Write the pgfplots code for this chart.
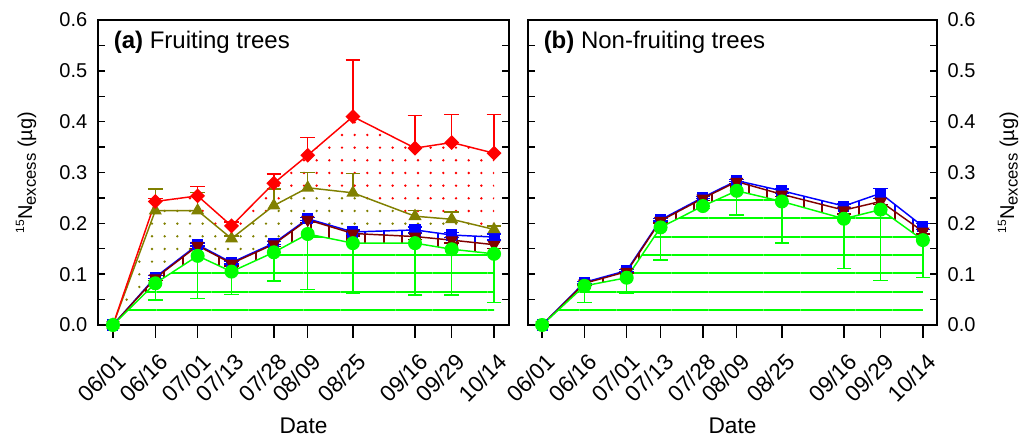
\documentclass[border=0pt]{standalone}
\usepackage{fontspec}
\setmainfont{Liberation Sans}
\usepackage{pgfplots}
\usepackage{pgfplotstable}
\pgfplotsset{compat=1.18}
\usepgfplotslibrary{fillbetween}
\usetikzlibrary{patterns.meta}

\definecolor{cred}{RGB}{255,0,0}
\definecolor{colive}{RGB}{128,128,0}
\definecolor{cmaroon}{RGB}{128,0,0}
\definecolor{cblue}{RGB}{0,0,255}
\definecolor{cgreen}{RGB}{0,255,0}

% day  value  error
\pgfplotstableread{
x y e
0 0 0
15 0.243 0.006
30 0.254 0.018
42 0.195 0.008
57 0.279 0.018
69 0.334 0.035
85 0.410 0.111
107 0.348 0.064
120 0.359 0.055
135 0.338 0.076
}\aRed
\pgfplotstableread{
x y e
0 0 0
15 0.225 0.043
30 0.225 0.036
42 0.170 0.005
57 0.235 0.033
69 0.270 0.030
85 0.260 0.038
107 0.214 0.011
120 0.208 0.014
135 0.188 0.007
}\aOlive
\pgfplotstableread{
x y e
0 0 0
15 0.094 0.003
30 0.158 0.003
42 0.123 0.003
57 0.161 0.003
69 0.209 0.003
85 0.183 0.004
107 0.187 0.006
120 0.177 0.005
135 0.173 0.006
}\aBlue
\pgfplotstableread{
x y e
0 0 0
15 0.092 0.004
30 0.156 0.005
42 0.121 0.005
57 0.159 0.005
69 0.207 0.005
85 0.180 0.005
107 0.174 0.006
120 0.167 0.006
135 0.158 0.007
}\aMaroon
\pgfplotstableread{
x y e
0 0 0
15 0.082 0.033
30 0.136 0.084
42 0.105 0.045
57 0.143 0.056
69 0.179 0.109
85 0.161 0.099
107 0.161 0.102
120 0.149 0.090
135 0.140 0.096
}\aGreen
\pgfplotstableread{
x y e
0 0 0
15 0.084 0.002
30 0.107 0.002
42 0.207 0.002
57 0.251 0.002
69 0.284 0.002
85 0.264 0.004
107 0.234 0.004
120 0.259 0.010
135 0.194 0.006
}\bBlue
\pgfplotstableread{
x y e
0 0 0
15 0.082 0.003
30 0.105 0.003
42 0.205 0.004
57 0.249 0.004
69 0.282 0.004
85 0.257 0.004
107 0.226 0.008
120 0.243 0.006
135 0.184 0.005
}\bMaroon
\pgfplotstableread{
x y e
0 0 0
15 0.077 0.033
30 0.093 0.031
42 0.192 0.064
57 0.234 0.005
69 0.264 0.048
85 0.243 0.082
107 0.209 0.098
120 0.227 0.139
135 0.167 0.074
}\bGreen

\newcommand{\ylab}{\fontsize{15}{17}\selectfont\raisebox{0.75ex}{\fontsize{9}{10}\selectfont 15}N\raisebox{-0.35ex}{\fontsize{12.5}{13}\selectfont excess} (µg)}

\pgfplotsset{
  panel/.style={
    scale only axis,
    height=228.75pt,
    ymin=0, ymax=0.6,
    ytick={0,0.1,...,0.6},
    minor ytick={0.05,0.15,...,0.55},
    ytick pos=both,
    ytick align=inside,
    major tick length=5.25pt,
    minor tick length=5.25pt,
    xtick pos=lower,
    xtick align=outside,
    xtick style={/pgfplots/major tick length=9.75pt},
    xtick={0,15,30,42,57,69,85,107,120,135},
    xticklabels={06/01,06/16,07/01,07/13,07/28,08/09,08/25,09/16,09/29,10/14},
    tick style={line width=1pt, black},
    axis line style={line width=1.1pt},
    xticklabel style={font=\fontsize{17}{18}\selectfont, xshift=9pt, yshift=-17pt, rotate=45, anchor=east},
    yticklabel style={font=\fontsize{15}{18}\selectfont},
    /pgf/number format/.cd, fixed, fixed zerofill, precision=1, assume math mode=true,
    /pgfplots/.cd,
    xlabel={Date},
    xlabel style={font=\fontsize{17}{20}\selectfont, yshift=-2pt},
    ylabel={\ylab},
    clip=false,
    error bars/error bar style={line width=1.1pt},
    error bars/error mark options={rotate=90, mark size=5.5pt, line width=1.1pt},
  },
  ser/.style={line width=1.1pt, color=#1},
}

\begin{document}
\begin{tikzpicture}
% ---------------- (a) ----------------
\begin{axis}[panel, width=308.25pt, xmin=-5.3, xmax=140.3, at={(0,0)}, anchor=south west,
  yticklabel pos=left,
  yticklabel style={xshift=-4.5pt},
  ylabel style={at={(axis description cs:-0.175,0.5)}, anchor=center}]
  \addplot[draw=none, name path=aR] table[x=x,y=y] {\aRed};
  \addplot[draw=none, name path=aO] table[x=x,y=y] {\aOlive};
  \addplot[draw=none, name path=aB] table[x=x,y=y] {\aBlue};
  \addplot[draw=none, name path=aM] table[x=x,y=y] {\aMaroon};
  \addplot[draw=none, name path=aG] table[x=x,y=y] {\aGreen};
  \addplot[draw=none, name path=aZ] coordinates {(0,0) (135,0)};
  \addplot[draw=none, pattern={Dots[distance=9.5pt, radius=1pt]}, pattern color=cred] fill between[of=aR and aO];
  \addplot[draw=none, pattern={Dots[distance=9.5pt, radius=1pt]}, pattern color=colive] fill between[of=aO and aB];
  \addplot[draw=none, pattern={Lines[angle=90, distance=13.7pt, line width=1.5pt]}, pattern color=cblue] fill between[of=aB and aM];
  \addplot[draw=none, pattern={Lines[angle=90, distance=13.7pt, line width=1.5pt]}, pattern color=cmaroon] fill between[of=aM and aG];
  \addplot[draw=none, pattern={Lines[angle=0, distance=13.8pt, line width=1.5pt]}, pattern color=cgreen] fill between[of=aG and aZ];
  % series
  \addplot[ser=cblue, mark=square*, mark size=3.6pt, error bars/.cd, y dir=both, y explicit] table[x=x,y=y,y error=e] {\aBlue};
  \addplot[ser=cmaroon, mark=triangle*, mark size=4.6pt, mark options={rotate=180}, error bars/.cd, y dir=minus, y explicit] table[x=x,y=y,y error=e] {\aMaroon};
  \addplot[ser=colive, mark=triangle*, mark size=4.6pt, error bars/.cd, y dir=plus, y explicit] table[x=x,y=y,y error=e] {\aOlive};
  \addplot[ser=cred, mark=square*, mark size=3.4pt, mark options={rotate=45}, error bars/.cd, y dir=plus, y explicit] table[x=x,y=y,y error=e] {\aRed};
  \addplot[ser=cgreen, mark=*, mark size=4.7pt, error bars/.cd, y dir=minus, y explicit] table[x=x,y=y,y error=e] {\aGreen};
  \node[anchor=base west, font=\fontsize{18}{20}\selectfont] at (rel axis cs:0.027,0.908) {\textbf{(a)} Fruiting trees};
\end{axis}
% ---------------- (b) ----------------
\begin{axis}[panel, width=306.75pt, xmin=-5, xmax=140, at={(322.5pt,0)}, anchor=south west,
  yticklabel pos=right,
  yticklabel style={xshift=4.5pt},
  ylabel style={at={(axis description cs:1.1736,0.5)}, anchor=center}]
  \addplot[draw=none, name path=bB] table[x=x,y=y] {\bBlue};
  \addplot[draw=none, name path=bM] table[x=x,y=y] {\bMaroon};
  \addplot[draw=none, name path=bG] table[x=x,y=y] {\bGreen};
  \addplot[draw=none, name path=bZ] coordinates {(0,0) (135,0)};
  \addplot[draw=none, pattern={Lines[angle=90, distance=13.7pt, line width=1.5pt]}, pattern color=cblue] fill between[of=bB and bM];
  \addplot[draw=none, pattern={Lines[angle=90, distance=13.7pt, line width=1.5pt]}, pattern color=cmaroon] fill between[of=bM and bG];
  \addplot[draw=none, pattern={Lines[angle=0, distance=13.8pt, line width=1.5pt]}, pattern color=cgreen] fill between[of=bG and bZ];
  \addplot[ser=cblue, mark=square*, mark size=3.6pt, error bars/.cd, y dir=both, y explicit] table[x=x,y=y,y error=e] {\bBlue};
  \addplot[ser=cmaroon, mark=triangle*, mark size=4.6pt, mark options={rotate=180}, error bars/.cd, y dir=minus, y explicit] table[x=x,y=y,y error=e] {\bMaroon};
  \addplot[ser=cgreen, mark=*, mark size=4.7pt, error bars/.cd, y dir=minus, y explicit] table[x=x,y=y,y error=e] {\bGreen};
  \node[anchor=base west, font=\fontsize{18}{20}\selectfont] at (rel axis cs:0.027,0.908) {\textbf{(b)} Non-fruiting trees};
\end{axis}
\pgfresetboundingbox
\useasboundingbox (-73.5pt,-85.5pt) rectangle (698.25pt,243.75pt);
\end{tikzpicture}
\end{document}
